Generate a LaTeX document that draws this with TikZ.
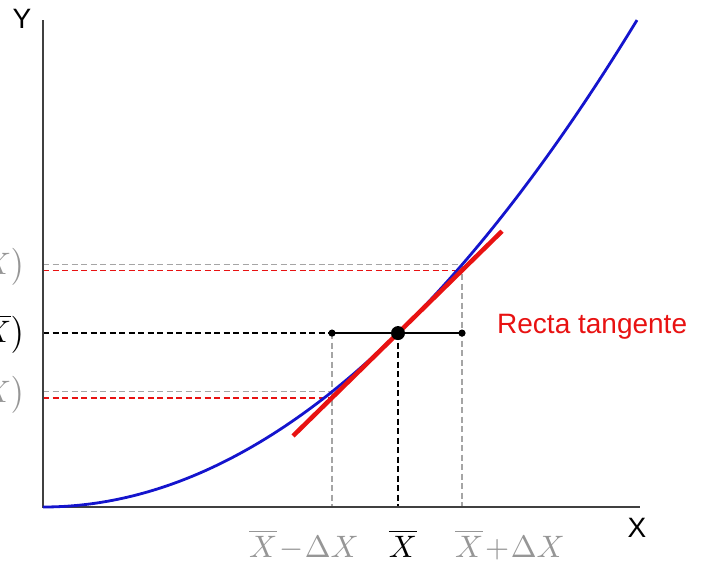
\documentclass[tikz,border=0pt]{standalone}
\usepackage{fontspec}
\setmainfont{Liberation Sans}
\definecolor{curveblue}{RGB}{20,20,205}
\definecolor{tanred}{RGB}{232,18,18}
\definecolor{guidegray}{RGB}{165,165,165}
\definecolor{axisgray}{RGB}{64,64,64}
\definecolor{labelgray}{RGB}{150,150,150}
\AtBeginDocument{\medmuskip=1mu\relax}
\tikzset{
  axisline/.style={draw=axisgray, line width=2.6pt},
  curveline/.style={draw=curveblue, line width=2.8pt},
  tanline/.style={draw=tanred, line width=4.5pt},
  grayguide/.style={draw=guidegray, dashed, line width=1.3pt, dash pattern=on 6pt off 3.5pt},
  redguide/.style={draw=tanred, dashed, line width=1.6pt, dash pattern=on 6pt off 3.5pt},
  blackguide/.style={draw=black, dashed, line width=1.6pt, dash pattern=on 6pt off 3.5pt},
  seg/.style={draw=black, line width=1.8pt},
  sanslabel/.style={font=\fontsize{28}{32}\selectfont, inner sep=0pt},
  mathlabel/.style={font=\fontsize{10}{12}\selectfont, inner sep=0pt, scale=3.1},
}
\begin{document}
\begin{tikzpicture}[x=1pt, y=-1pt]
\useasboundingbox (0,0) rectangle (714,562);
% coordinates
\def\fa{13.8}
\coordinate (O) at (43,507);
\coordinate (Ytop) at (43,20);
\coordinate (Xend) at (640,507);
\coordinate (P) at (398,{507-\fa*((398-43)/100)^2});
\coordinate (L) at (332,{507-\fa*((332-43)/100)^2});
\coordinate (R) at (462,{507-\fa*((462-43)/100)^2});
\pgfmathsetmacro{\slope}{2*\fa*(398-43)/10000}
\pgfmathsetmacro{\py}{507-\fa*((398-43)/100)^2}
\coordinate (TL) at (332,{\py+\slope*66});
\coordinate (TR) at (462,{\py-\slope*64});
\coordinate (Ta) at (293,{\py+\slope*105});
\coordinate (Tb) at (502,{\py-\slope*104});
\coordinate (PL) at (332,\py);
\coordinate (PR) at (462,\py);
\coordinate (Lb) at (332,507);
\coordinate (Pb) at (398,507);
\coordinate (Rb) at (462,507);
\coordinate (Ya) at (43,{507-\fa*((462-43)/100)^2});
\coordinate (Yb) at (43,{\py-\slope*64});
\coordinate (Yc) at (43,\py);
\coordinate (Yd) at (43,{507-\fa*((332-43)/100)^2});
\coordinate (Ye) at (43,{\py+\slope*66});
% guides
\draw[grayguide] (Ya) -- (R);
\draw[redguide] (Yb) -- (TR);
\draw[grayguide] (Yd) -- (L);
\draw[redguide] (Ye) -- (TL);
\draw[blackguide] (Yc) -- (PL);
\draw[grayguide] (R) -- (Rb);
\draw[grayguide] (PL) -- (Lb);
\draw[blackguide] (P) -- (Pb);
% axes
\draw[axisline] (Ytop) -- (O) -- (Xend);
% curve
\draw[curveline] plot[domain=43:637, samples=120] (\x,{507-\fa*((\x-43)/100)^2});
% tangent
\draw[tanline] (Ta) -- (Tb);
% segment
\draw[seg] (PL) -- (PR);
\fill (PL) circle (3.6pt);
\fill (PR) circle (3.6pt);
\fill (P) circle (7pt);
% labels
\node[sanslabel] (ylab) at (22,19) {Y};
\node[sanslabel] (xlab) at (637,528) {X};
\node[sanslabel, text=tanred, anchor=west] (tlab) at (497,327) {Recta tangente};
\node[mathlabel, text=labelgray, anchor=base] (b1) at (304,557) {$\overline{X}-\Delta X$};
\node[mathlabel, anchor=base] (b2) at (403,557) {$\overline{X}$};
\node[mathlabel, text=labelgray, anchor=base] (b3) at (510,557) {$\overline{X}+\Delta X$};
\node[mathlabel, text=labelgray, anchor=east] (l1) at (26,266) {$f\bigl(\overline{X}+\Delta X\bigr)$};
\node[mathlabel, anchor=east] (l2) at (26,334) {$f\bigl(\overline{X}\bigr)$};
\node[mathlabel, text=labelgray, anchor=east] (l3) at (26,394) {$f\bigl(\overline{X}-\Delta X\bigr)$};
\end{tikzpicture}
\end{document}
